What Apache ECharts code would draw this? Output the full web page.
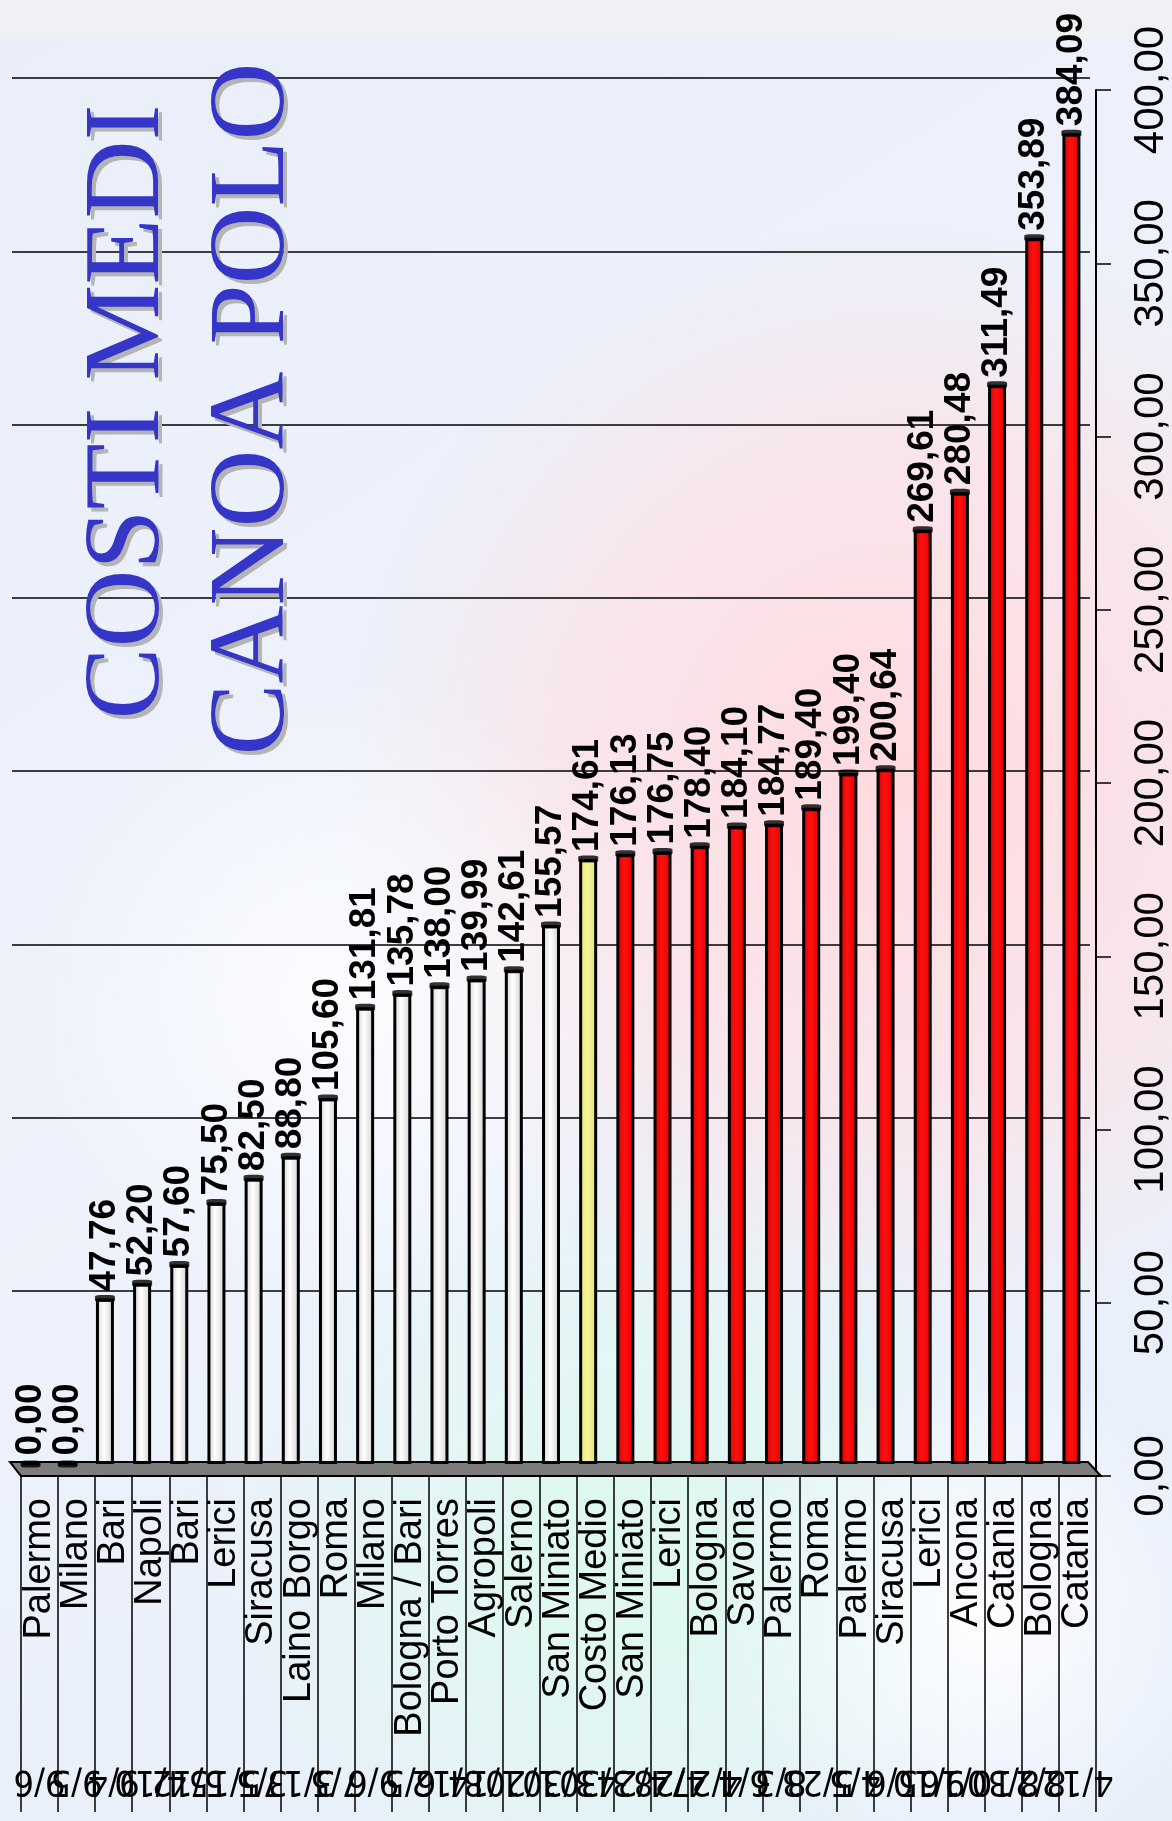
<!DOCTYPE html>
<html>
<head>
<meta charset="utf-8">
<title>Costi medi canoa polo</title>
<script src="https://cdn.jsdelivr.net/npm/echarts@6/dist/echarts.min.js"></script>
<style>
  html, body { margin: 0; padding: 0; background: #e8eefa; }
  #chart { width: 1172px; height: 1821px; }
</style>
</head>
<body>
<div id="chart"></div>
<script>
  // dati
  var citta = ['Palermo', 'Milano', 'Bari', 'Napoli', 'Bari', 'Lerici', 'Siracusa', 'Laino Borgo', 'Roma', 'Milano',
    'Bologna / Bari', 'Porto Torres', 'Agropoli', 'Salerno', 'San Miniato', 'Costo Medio', 'San Miniato', 'Lerici',
    'Bologna', 'Savona', 'Palermo', 'Roma', 'Palermo', 'Siracusa', 'Lerici', 'Ancona', 'Catania', 'Bologna', 'Catania'];
  var date = ['9/6', '9/5', '9/4', '4/10', '5/12', '5/15', '3/5', '3/17', '7/5', '9/6',
    '6/5', '8/12', '1/14', '1/20', '3/30', '3/30', '4/24', '4/28', '4/27', '6/4',
    '8/3', '5/23', '4/5', '5/6', '9/10', '10/16', '8/30', '8/2', '4/12'];
  var costi = [0.00, 0.00, 47.76, 52.20, 57.60, 75.50, 82.50, 88.80, 105.60, 131.81,
    135.78, 138.00, 139.99, 142.61, 155.57, 174.61, 176.13, 176.75, 178.40, 184.10,
    184.77, 189.40, 199.40, 200.64, 269.61, 280.48, 311.49, 353.89, 384.09];

  var media = costi[citta.indexOf('Costo Medio')];
  var virgola = function (v) { return v.toFixed(2).replace('.', ','); };

  function colore(v) {
    var stops;
    if (v < media) {
      stops = ['#d0d0d0', '#ffffff', '#cccccc'];
    } else if (v === media) {
      stops = ['#e8e67a', '#f6f49a', '#e2e070'];
    } else {
      stops = ['#d40000', '#ff1010', '#e00000'];
    }
    return new echarts.graphic.LinearGradient(0, 0, 1, 0, [
      { offset: 0, color: stops[0] },
      { offset: 0.45, color: stops[1] },
      { offset: 1, color: stops[2] }
    ]);
  }

  var chart = echarts.init(document.getElementById('chart'));
  var font = '"Liberation Sans", Arial, sans-serif';
  var titolo = '108px "Liberation Serif", "Times New Roman", serif';

  chart.setOption({
    animation: false,
    backgroundColor: '#e8eefa',
    graphic: [
      // sfondo sfumato
      { type: 'rect', z: -20, shape: { x: 0, y: 0, width: 1172, height: 1821 },
        style: { fill: new echarts.graphic.LinearGradient(0, 0, 1, 1, [
          { offset: 0, color: '#e9eef9' }, { offset: 0.5, color: '#edf2fb' }, { offset: 1, color: '#e6eefa' }]) } },
      { type: 'rect', z: -19, shape: { x: 0, y: 0, width: 1172, height: 38 }, style: { fill: '#f0f1f4' } },
      { type: 'circle', z: -18, shape: { cx: 900, cy: 780, r: 560 },
        style: { fill: new echarts.graphic.RadialGradient(0.5, 0.5, 0.5, [
          { offset: 0, color: 'rgba(255,218,222,1)' }, { offset: 0.6, color: 'rgba(255,222,226,0.6)' },
          { offset: 1, color: 'rgba(255,222,225,0)' }]) } },
      { type: 'circle', z: -18, shape: { cx: 620, cy: 1560, r: 420 },
        style: { fill: new echarts.graphic.RadialGradient(0.5, 0.5, 0.5, [
          { offset: 0, color: 'rgba(220,250,238,0.95)' }, { offset: 1, color: 'rgba(220,250,238,0)' }]) } },
      { type: 'circle', z: -18, shape: { cx: 340, cy: 1000, r: 330 },
        style: { fill: new echarts.graphic.RadialGradient(0.5, 0.5, 0.5, [
          { offset: 0, color: 'rgba(255,255,255,0.8)' }, { offset: 1, color: 'rgba(255,255,255,0)' }]) } },
      { type: 'circle', z: -18, shape: { cx: 980, cy: 1620, r: 260 },
        style: { fill: new echarts.graphic.RadialGradient(0.5, 0.5, 0.5, [
          { offset: 0, color: 'rgba(255,255,255,0.9)' }, { offset: 1, color: 'rgba(255,255,255,0)' }]) } },
      // pavimento 3D
      { type: 'polygon', z: 5, shape: { points: [[10, 1462], [1088, 1462], [1101, 1476], [21, 1476]] },
        style: { fill: '#7c7c7c', stroke: '#000', lineWidth: 2 } },
      // titolo con ombra
      { type: 'text', z: 1, x: 134, y: 416, rotation: Math.PI / 2,
        style: { text: 'COSTI MEDI', fill: '#b4b4b4', font: titolo, align: 'center', verticalAlign: 'middle' } },
      { type: 'text', z: 2, x: 130, y: 412, rotation: Math.PI / 2,
        style: { text: 'COSTI MEDI', fill: '#3535c8', font: titolo, align: 'center', verticalAlign: 'middle' } },
      { type: 'text', z: 1, x: 259, y: 413, rotation: Math.PI / 2,
        style: { text: 'CANOA POLO', fill: '#b4b4b4', font: titolo, align: 'center', verticalAlign: 'middle' } },
      { type: 'text', z: 2, x: 255, y: 409, rotation: Math.PI / 2,
        style: { text: 'CANOA POLO', fill: '#3535c8', font: titolo, align: 'center', verticalAlign: 'middle' } }
    ],
    grid: [
      // parete di fondo (barre e griglia)
      { left: 12, width: 1078, top: 78, height: 1386 },
      // asse anteriore
      { left: 21, width: 1080, top: 90, height: 1386 }
    ],
    xAxis: [
      { type: 'category', gridIndex: 0, data: citta, show: false },
      { type: 'category', gridIndex: 1, data: citta, position: 'bottom',
        axisLine: { lineStyle: { color: '#000', width: 2 } },
        axisTick: { show: true, length: 336, lineStyle: { color: '#000', width: 1.5 } },
        axisLabel: { interval: 0, rotate: 90, margin: 22, color: '#000', fontSize: 38, fontFamily: font } },
      { type: 'category', gridIndex: 1, data: date, position: 'bottom',
        axisLine: { show: false }, axisTick: { show: false },
        axisLabel: { interval: 0, rotate: 180, margin: 286, color: '#000', fontSize: 36,
          fontFamily: '"Liberation Sans Narrow", "DejaVu Sans Condensed", "Liberation Sans", sans-serif' } }
    ],
    yAxis: [
      { type: 'value', gridIndex: 0, min: 0, max: 400, interval: 50,
        axisLine: { show: false }, axisTick: { show: false }, axisLabel: { show: false },
        splitLine: { lineStyle: { color: '#000', width: 1.5 } } },
      { type: 'value', gridIndex: 1, position: 'right', min: 0, max: 400, interval: 50,
        axisLine: { show: true, lineStyle: { color: '#000', width: 2 } },
        axisTick: { show: true, length: 15, lineStyle: { color: '#000', width: 1.5 } },
        splitLine: { show: false },
        axisLabel: { rotate: 90, margin: 34, color: '#000', fontSize: 42, fontFamily: font,
          formatter: function (v) { return virgola(v); } } }
    ],
    series: [
      {
        type: 'bar', xAxisIndex: 0, yAxisIndex: 0, z: 6,
        barWidth: 18,
        data: costi.map(function (v) {
          return { value: v, itemStyle: { color: colore(v) } };
        }),
        itemStyle: { borderColor: '#000', borderWidth: 3 },
        label: {
          show: true, position: 'top', rotate: 90, align: 'left', verticalAlign: 'middle', distance: 7,
          color: '#000', fontSize: 37, fontWeight: 'bold', fontFamily: font,
          formatter: function (p) { return virgola(p.value); }
        }
      },
      {
        // tappo 3D in cima alle barre
        type: 'scatter', xAxisIndex: 0, yAxisIndex: 0, z: 7,
        symbol: 'roundRect', symbolSize: [20, 7],
        itemStyle: { color: '#000' },
        data: costi
      }
    ]
  });
</script>
</body>
</html>
